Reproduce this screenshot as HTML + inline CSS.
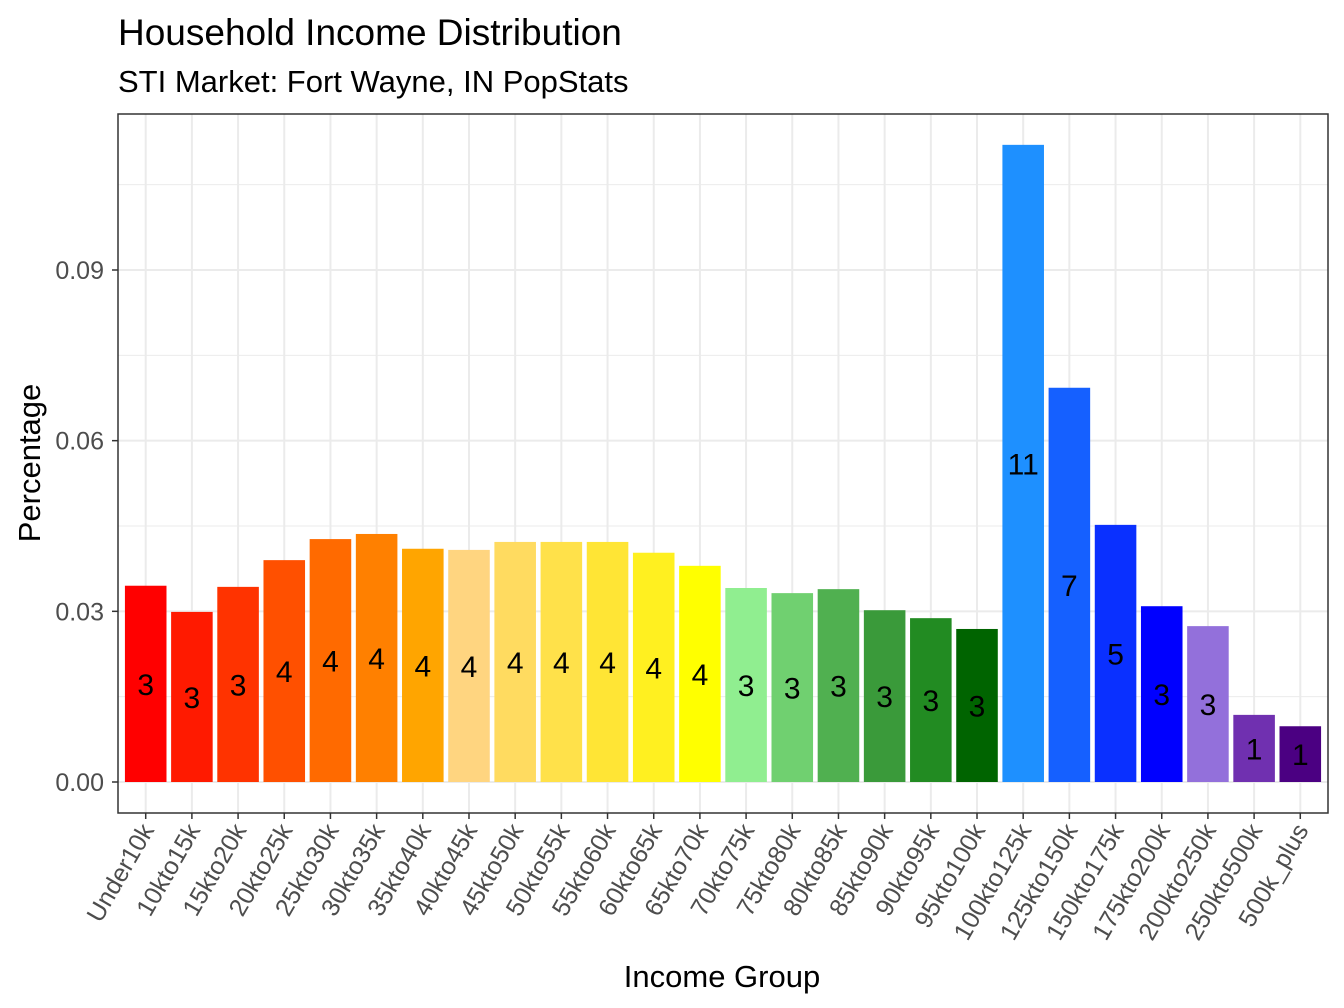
<!DOCTYPE html>
<html><head><meta charset="utf-8"><style>
html,body{margin:0;padding:0;background:#fff;}
svg{display:block;font-family:"Liberation Sans",Arial,sans-serif;}
</style></head><body>
<svg id="chart" width="1344" height="1008" viewBox="0 0 1344 1008">
<text x="118" y="45" font-size="37" fill="#000">Household Income Distribution</text>
<text x="118" y="92" font-size="31" fill="#000">STI Market: Fort Wayne, IN PopStats</text>
<g id="grid"></g>
<g id="bars"></g>
<g id="labels"></g>
<rect x="118" y="114" width="1210" height="699" fill="none" stroke="#333" stroke-width="1.5"/>
<g id="axes"></g>
<text transform="translate(40,463) rotate(-90)" text-anchor="middle" font-size="31" fill="#000">Percentage</text>
<text x="722" y="987" text-anchor="middle" font-size="31" fill="#000">Income Group</text>
</svg>
<script>
const categories = ["Under10k","10kto15k","15kto20k","20kto25k","25kto30k","30kto35k","35kto40k","40kto45k","45kto50k","50kto55k","55kto60k","60kto65k","65kto70k","70kto75k","75kto80k","80kto85k","85kto90k","90kto95k","95kto100k","100kto125k","125kto150k","150kto175k","175kto200k","200kto250k","250kto500k","500k_plus"];
const values = [0.0345,0.0299,0.0343,0.0390,0.0427,0.0436,0.0410,0.0408,0.0422,0.0422,0.0422,0.0403,0.0380,0.0341,0.0332,0.0339,0.0302,0.0288,0.0269,0.1120,0.0693,0.0452,0.0309,0.0274,0.0118,0.0098];
const barLabels = ["3","3","3","4","4","4","4","4","4","4","4","4","4","3","3","3","3","3","3","11","7","5","3","3","1","1"];
const colors = ["#FF0000","#FF1A00","#FF3300","#FF5000","#FF6A00","#FF8000","#FFA500","#FFD580","#FFDB60","#FFE14A","#FFE535","#FFF020","#FFFF00","#90EE90","#70D070","#50B050","#3A9A3A","#228B22","#006400","#1E90FF","#1560FF","#0A30FF","#0000FF","#9370DB","#7030B0","#4B0082"];
const yTicks = [0,0.03,0.06,0.09];
const yTickLabels = ["0.00","0.03","0.06","0.09"];
const yMinor = [0.015,0.045,0.075,0.105];

const NS="http://www.w3.org/2000/svg";
const px0=118,px1=1328,py0=114,py1=813;
const y0px=782, pxPerUnit=(782-270)/0.09;
const step=(px1-px0)/(categories.length+0.2);
function yScale(v){return y0px-v*pxPerUnit;}
function xScale(i){return px0+step*0.6+i*step;}
function mk(tag,attrs,parent){const e=document.createElementNS(NS,tag);for(const k in attrs)e.setAttribute(k,attrs[k]);parent.appendChild(e);return e;}
const grid=document.getElementById('grid'),bars=document.getElementById('bars'),labels=document.getElementById('labels'),axes=document.getElementById('axes');
mk('rect',{x:px0,y:py0,width:px1-px0,height:py1-py0,fill:'#fff'},grid);
yMinor.forEach(v=>{const l=mk('line',{x1:px0,x2:px1,y1:yScale(v),y2:yScale(v),stroke:'#EBEBEB','stroke-width':1},grid);

});
yTicks.forEach((v,i)=>{const l=mk('line',{x1:px0,x2:px1,y1:yScale(v),y2:yScale(v),stroke:'#EBEBEB','stroke-width':2},grid);


const t=mk('line',{x1:px0-6,x2:px0,y1:yScale(v),y2:yScale(v),stroke:'#333','stroke-width':1.5},axes);


const tx=mk('text',{x:px0-14,y:yScale(v)+9,'text-anchor':'end','font-size':25,fill:'#4D4D4D'},axes);
tx.textContent=yTickLabels[i];

});
categories.forEach((c,i)=>{const x=xScale(i);
const g=mk('line',{x1:x,x2:x,y1:py0,y2:py1,stroke:'#EBEBEB','stroke-width':2},grid);


const w=step*0.9,top=yScale(values[i]);
const r=mk('rect',{x:x-w/2,y:top,width:w,height:y0px-top,fill:colors[i]},bars);


const lt=mk('text',{x:x,y:(top+y0px)/2+11,'text-anchor':'middle','font-size':30,fill:'#000'},labels);
lt.textContent=barLabels[i];


const t=mk('line',{x1:x,x2:x,y1:py1,y2:py1+6,stroke:'#333','stroke-width':1.5},axes);


const tx=mk('text',{transform:'translate('+(x+9)+','+(py1+17)+') rotate(-60)','text-anchor':'end','font-size':25,fill:'#4D4D4D'},axes);
tx.textContent=c;

});
</script>
</body></html>
